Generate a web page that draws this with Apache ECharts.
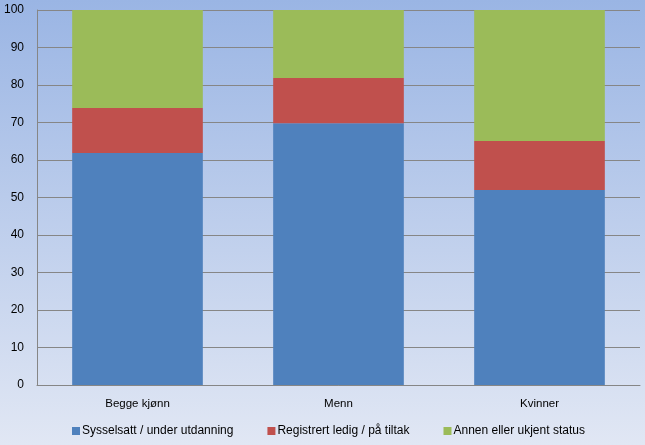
<!DOCTYPE html>
<html><head><meta charset="utf-8">
<script src="https://cdn.jsdelivr.net/npm/echarts@6/dist/echarts.min.js"></script>
<style>html,body{margin:0;padding:0;}#c{width:645px;height:445px;}</style>
</head><body><div id="c"></div>
<script>
var categories = ['Begge kjønn', 'Menn', 'Kvinner'];
var sysselsatt = [61.9, 69.8, 52.0];
var registrert = [12.0, 12.1, 13.1];
var annen = [26.1, 18.1, 34.9];
var seriesNames = ['Sysselsatt / under utdanning', 'Registrert ledig / på tiltak', 'Annen eller ukjent status'];
var colors = ['#4f81bd', '#c0504d', '#9bbb59'];

var chart = echarts.init(document.getElementById('c'));
var font = 'Liberation Sans, Arial, sans-serif';
chart.setOption({
  animation: false,
  backgroundColor: {type: 'linear', x: 0, y: 0, x2: 0, y2: 1, colorStops: [
    {offset: 0, color: '#9ab5e4'}, {offset: 1, color: '#e1e7f4'}]},
  grid: {left: 37, right: 5, top: 10, bottom: 60},
  legend: {
    bottom: 3, left: 67, itemWidth: 8, itemHeight: 8, itemGap: 34,
    icon: 'rect',
    textStyle: {fontFamily: font, fontSize: 12, color: '#000', padding: [0, 0, 0, -3]},
    data: seriesNames
  },
  xAxis: {
    type: 'category', data: categories,
    axisLine: {lineStyle: {color: '#868686'}},
    axisTick: {show: false},
    axisLabel: {fontFamily: font, fontSize: 11.5, color: '#000', margin: 13}
  },
  yAxis: {
    type: 'value', min: 0, max: 100, interval: 10,
    axisLine: {show: true, lineStyle: {color: '#868686'}},
    axisTick: {show: false},
    splitLine: {lineStyle: {color: '#868686'}},
    axisLabel: {fontFamily: font, fontSize: 12, color: '#000', margin: 13}
  },
  series: [
    {name: seriesNames[0], type: 'bar', stack: 's', data: sysselsatt, barWidth: '65%', itemStyle: {color: colors[0]}},
    {name: seriesNames[1], type: 'bar', stack: 's', data: registrert, itemStyle: {color: colors[1]}},
    {name: seriesNames[2], type: 'bar', stack: 's', data: annen, itemStyle: {color: colors[2]}}
  ]
});
</script></body></html>
